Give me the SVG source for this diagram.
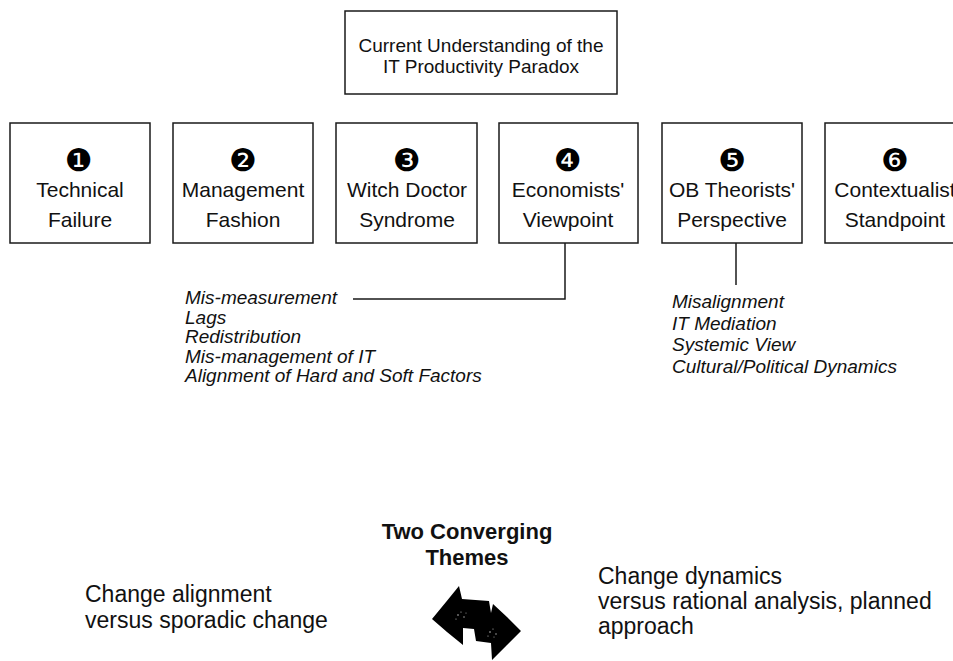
<svg xmlns="http://www.w3.org/2000/svg" width="953" height="661" viewBox="0 0 953 661">
  <style>
    .box { fill: #fff; stroke: #1a1a1a; stroke-width: 1.5; }
    .wire { fill: none; stroke: #1a1a1a; stroke-width: 1.5; }
    .head { font-family: "Liberation Sans", Arial, sans-serif; font-size: 19px; fill: #111; text-anchor: middle; }
    .num { font-family: "DejaVu Sans", sans-serif; font-size: 31px; fill: #000; text-anchor: middle; }
    .lbl { font-family: "Liberation Sans", Arial, sans-serif; font-size: 21px; fill: #111; text-anchor: middle; }
    .item { font-family: "Liberation Sans", Arial, sans-serif; font-size: 19px; font-style: italic; fill: #111; }
    .title { font-family: "Liberation Sans", Arial, sans-serif; font-size: 22px; font-weight: bold; fill: #111; text-anchor: middle; }
    .theme { font-family: "Liberation Sans", Arial, sans-serif; font-size: 23px; fill: #111; }
  </style>
  <rect width="953" height="661" fill="#fff"/>

  <!-- root node -->
  <g id="root">
    <rect class="box" x="345" y="11" width="272" height="83"/>
    <text class="head" x="481" y="52">Current Understanding of the</text>
    <text class="head" x="481" y="73">IT Productivity Paradox</text>
  </g>

  <!-- six explanations -->
  <g id="n1">
    <rect class="box" x="10" y="123" width="140" height="120"/>
    <text class="num" x="79" y="171">❶</text>
    <text class="lbl" x="80" y="197">Technical</text>
    <text class="lbl" x="80" y="227">Failure</text>
  </g>
  <g id="n2">
    <rect class="box" x="173" y="123" width="140" height="120"/>
    <text class="num" x="243" y="171">❷</text>
    <text class="lbl" x="243" y="197">Management</text>
    <text class="lbl" x="243" y="227">Fashion</text>
  </g>
  <g id="n3">
    <rect class="box" x="336" y="123" width="141" height="120"/>
    <text class="num" x="407" y="171">❸</text>
    <text class="lbl" x="407" y="197">Witch Doctor</text>
    <text class="lbl" x="407" y="227">Syndrome</text>
  </g>
  <g id="n4">
    <rect class="box" x="499" y="123" width="139" height="120"/>
    <text class="num" x="568" y="171">❹</text>
    <text class="lbl" x="568" y="197">Economists'</text>
    <text class="lbl" x="568" y="227">Viewpoint</text>
  </g>
  <g id="n5">
    <rect class="box" x="662" y="123" width="140" height="120"/>
    <text class="num" x="732" y="171">❺</text>
    <text class="lbl" x="732" y="197">OB Theorists'</text>
    <text class="lbl" x="732" y="227">Perspective</text>
  </g>
  <g id="n6">
    <rect class="box" x="825" y="123" width="140" height="120"/>
    <text class="num" x="895" y="171">❻</text>
    <text class="lbl" x="895" y="197">Contextualist</text>
    <text class="lbl" x="895" y="227">Standpoint</text>
  </g>

  <!-- connectors -->
  <g id="connectors">
    <path class="wire" d="M565 243 V299 H353"/>
    <path class="wire" d="M736 243 V285"/>
  </g>

  <!-- economists' factors -->
  <g id="econ-list">
    <text class="item" x="185" y="304">Mis-measurement</text>
    <text class="item" x="185" y="324">Lags</text>
    <text class="item" x="185" y="343">Redistribution</text>
    <text class="item" x="185" y="363">Mis-management of IT</text>
    <text class="item" x="185" y="382">Alignment of Hard and Soft Factors</text>
  </g>

  <!-- OB theorists' factors -->
  <g id="ob-list">
    <text class="item" x="672" y="308">Misalignment</text>
    <text class="item" x="672" y="330">IT Mediation</text>
    <text class="item" x="672" y="351">Systemic View</text>
    <text class="item" x="672" y="373">Cultural/Political Dynamics</text>
  </g>

  <!-- converging themes -->
  <g id="themes">
    <text class="title" x="467" y="539">Two Converging</text>
    <text class="title" x="467" y="565">Themes</text>
    <text class="theme" x="85" y="602">Change alignment</text>
    <text class="theme" x="85" y="628">versus sporadic change</text>
    <text class="theme" x="598" y="584">Change dynamics</text>
    <text class="theme" x="598" y="609">versus rational analysis, planned</text>
    <text class="theme" x="598" y="634">approach</text>
  </g>

  <!-- two-way block arrow -->
  <g id="arrow">
    <path fill="#000" d="M432 619 L446 602 L459 586 L462 599 L489 601 L491 613 L493 604 L507 617 L521 631 L507 645 L492 660 L491 643 L476 641 L474 629 L463 628 L463 645 L447 632 Z"/>
    <g fill="#fff" opacity="0.75">
      <circle cx="458" cy="615" r="0.8"/>
      <circle cx="461" cy="612" r="0.6"/>
      <circle cx="464" cy="617" r="0.7"/>
      <circle cx="456" cy="619" r="0.6"/>
      <circle cx="466" cy="613" r="0.5"/>
      <circle cx="490" cy="632" r="0.8"/>
      <circle cx="493" cy="629" r="0.6"/>
      <circle cx="496" cy="634" r="0.7"/>
      <circle cx="488" cy="636" r="0.6"/>
      <circle cx="494" cy="637" r="0.5"/>
    </g>
  </g>
</svg>
